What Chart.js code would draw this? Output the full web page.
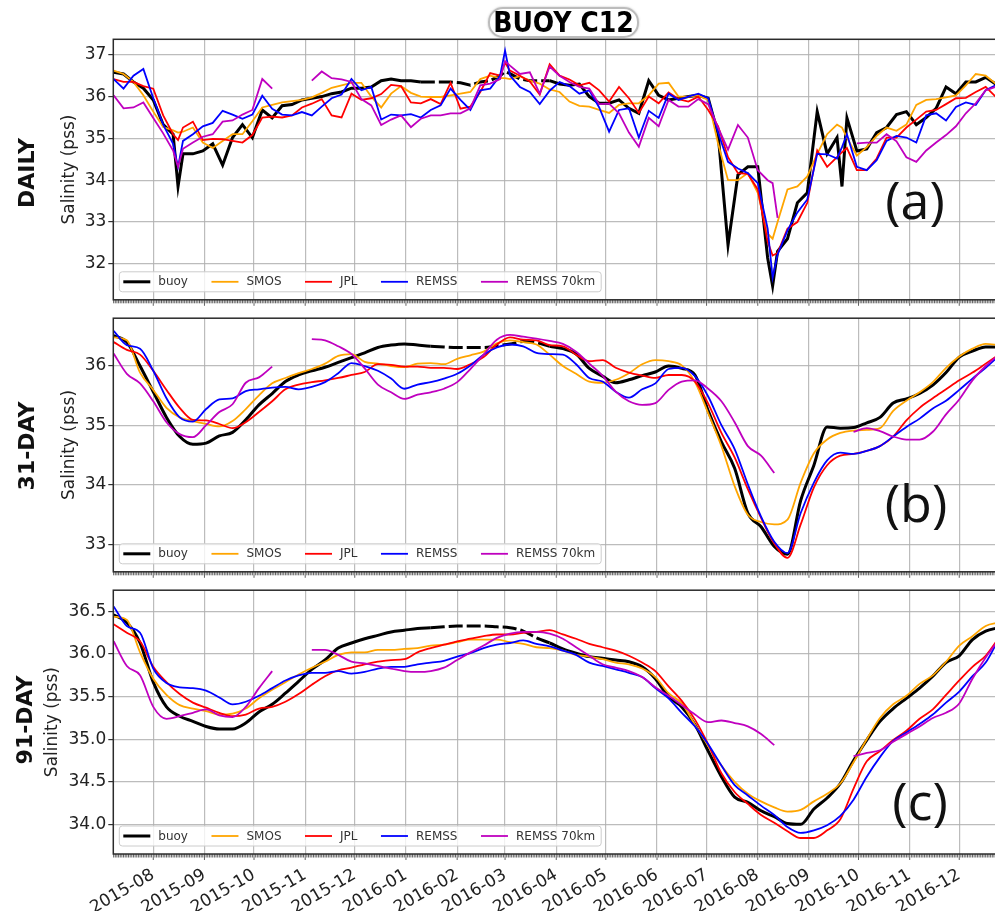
<!DOCTYPE html>
<html>
<head>
<meta charset="utf-8">
<title>BUOY C12</title>
<script src="https://cdn.jsdelivr.net/npm/chart.js@4.4.1/dist/chart.umd.min.js"></script>
<style>
  html, body { margin: 0; padding: 0; background: #ffffff; }
  body { position: relative; width: 995px; height: 911px; overflow: hidden; font-family: "DejaVu Sans", sans-serif; }
  canvas { position: absolute; left: 0; }
  .rowlabel { position: absolute; font-weight: bold; font-size: 22px; color: #111; white-space: nowrap; line-height: 1;
              transform: translate(-50%, -50%) rotate(-90deg); }
  .tag { position: absolute; font-family: "Open Sans", sans-serif; font-size: 52px; color: #111; line-height: 1;
         white-space: nowrap; transform: translate(-50%, -50%); }
  #title { position: absolute; left: 488px; top: 7px; width: 147px; height: 27px;
           border: 2px solid rgba(165,165,165,0.75); border-radius: 15px; box-shadow: 0 0 2px rgba(120,120,120,0.5);
           text-align: center; font-family: "Liberation Sans Narrow", "DejaVu Sans Condensed", sans-serif;
           font-weight: bold; font-size: 28px; line-height: 27px; color: #000; }
</style>
</head>
<body>
<canvas id="daily" width="1010" height="312" style="top:0px"></canvas>
<canvas id="d31" width="1010" height="278" style="top:306px"></canvas>
<canvas id="d91" width="1010" height="333" style="top:578px"></canvas>
<div id="title">BUOY C12</div>
<div class="rowlabel" style="left:27px; top:173px">DAILY</div>
<div class="rowlabel" style="left:27px; top:446px">31-DAY</div>
<div class="rowlabel" style="left:25px; top:720px">91-DAY</div>
<div class="tag" style="left:915px; top:199px">(a)</div>
<div class="tag" style="left:916px; top:502px">(b)</div>
<div class="tag" style="left:920px; top:800px">(c)</div>
<script>
// ---- series names, colours, tick labels ----
const SERIES_NAMES = ['buoy', 'SMOS', 'JPL', 'REMSS', 'REMSS 70km'];
const SERIES_COLORS = ['#000000', '#ffa500', '#ff0000', '#0000ff', '#bf00bf'];
const MONTH_LABELS = ['2015-08','2015-09','2015-10','2015-11','2015-12','2016-01','2016-02','2016-03',
                      '2016-04','2016-05','2016-06','2016-07','2016-08','2016-09','2016-10','2016-11','2016-12'];
const DAILY_TICKS = [32, 33, 34, 35, 36, 37];
const D31_TICKS = [33, 34, 35, 36];
const D91_TICKS = [34.0, 34.5, 35.0, 35.5, 36.0, 36.5];
// period with intermittent buoy records (drawn dashed)
const BUOY_SPARSE = ['2016-01-09', '2016-03-26'];

// ---- daily salinity ----
const DAILY_DATES = [
 '2015-07-08','2015-07-14','2015-07-20','2015-07-26',
 '2015-08-01','2015-08-07','2015-08-13','2015-08-16','2015-08-19','2015-08-25','2015-08-31',
 '2015-09-06','2015-09-12','2015-09-18','2015-09-24','2015-09-30',
 '2015-10-06','2015-10-12','2015-10-18','2015-10-24','2015-10-30',
 '2015-11-05','2015-11-11','2015-11-17','2015-11-23','2015-11-29',
 '2015-12-05','2015-12-11','2015-12-17','2015-12-23','2015-12-29',
 '2016-01-04','2016-01-10','2016-01-16','2016-01-22','2016-01-28',
 '2016-02-03','2016-02-09','2016-02-15','2016-02-21','2016-02-27',
 '2016-03-01','2016-03-04','2016-03-10','2016-03-16','2016-03-22','2016-03-28',
 '2016-04-03','2016-04-09','2016-04-15','2016-04-21','2016-04-27',
 '2016-05-03','2016-05-09','2016-05-15','2016-05-21','2016-05-27',
 '2016-06-02','2016-06-08','2016-06-14','2016-06-20','2016-06-26',
 '2016-07-02','2016-07-08','2016-07-14','2016-07-20','2016-07-26',
 '2016-08-01','2016-08-07','2016-08-10','2016-08-13','2016-08-19','2016-08-25','2016-08-31',
 '2016-09-06','2016-09-12','2016-09-18','2016-09-21','2016-09-24','2016-09-30',
 '2016-10-06','2016-10-12','2016-10-18','2016-10-24','2016-10-30',
 '2016-11-05','2016-11-11','2016-11-17','2016-11-23','2016-11-29',
 '2016-12-05','2016-12-11','2016-12-17','2016-12-23'];
const DAILY_BUOY = [
 36.58,36.54,36.35,36.2,
 35.92,35.33,35.1,33.85,34.63,34.63,34.7,
 34.87,34.36,35.02,35.33,35.02,
 35.68,35.49,35.78,35.81,35.92,
 35.96,36.0,36.07,36.11,36.2,
 36.2,36.23,36.38,36.42,36.38,
 36.38,36.35,36.35,36.35,36.35,
 36.33,36.27,36.35,36.38,36.5,
 36.6,36.55,36.42,36.38,36.38,36.38,
 36.3,36.27,36.3,36.0,35.84,
 35.84,35.92,35.72,35.6,36.38,
 36.03,35.92,35.96,36.0,36.03,
 35.96,35.1,32.45,34.13,34.32,
 34.32,32.14,31.47,32.3,32.6,33.46,33.7,
 35.64,34.63,35.02,33.85,35.49,34.7,
 34.75,35.14,35.26,35.57,35.64,
 35.33,35.5,35.72,36.23,36.07,
 36.35,36.35,36.46,36.3];
const DAILY_SMOS = [
 36.62,36.54,36.35,36.03,
 35.64,35.27,35.19,35.14,35.16,35.26,34.9,
 34.77,34.94,35.1,35.1,35.41,
 35.74,35.8,35.86,35.89,35.92,
 35.98,36.09,36.21,36.27,36.33,
 36.33,36.0,35.74,36.07,36.25,
 36.09,36.0,35.99,35.99,36.03,
 36.07,36.11,36.42,36.5,36.44,
 36.44,36.42,36.49,36.38,36.31,36.17,
 36.11,35.88,35.78,35.76,35.68,
 35.61,35.8,35.84,35.84,36.03,
 36.31,36.33,36.0,36.0,36.03,
 35.92,34.87,34.0,34.0,34.17,
 33.7,32.72,32.6,33.0,33.78,33.85,34.09,
 34.63,35.1,35.33,35.26,35.02,34.59,
 34.79,35.06,35.26,35.18,35.33,
 35.8,35.92,35.94,35.98,36.03,
 36.27,36.54,36.5,36.31];
const DAILY_JPL = [
 36.42,36.35,36.35,36.25,
 36.19,35.55,35.1,34.96,35.26,35.4,34.96,
 34.99,34.98,34.94,34.9,35.08,
 35.5,35.52,35.5,35.55,35.74,
 35.83,35.94,35.55,35.5,36.07,
 35.92,35.96,36.06,36.28,36.25,
 35.86,35.84,35.94,35.82,36.33,
 35.71,35.76,36.11,36.56,36.5,
 36.81,36.62,36.5,36.36,36.05,36.77,
 36.5,36.41,36.27,36.33,36.15,
 35.88,36.23,35.96,35.61,36.0,
 35.84,36.1,35.94,35.88,36.0,
 35.68,35.29,34.55,34.17,34.15,
 33.78,32.53,32.2,32.26,32.84,33.0,33.46,
 34.71,34.32,34.55,34.67,34.77,34.24,
 34.24,34.52,35.02,35.02,35.26,
 35.45,35.64,35.68,35.82,35.96,
 35.97,36.11,36.23,36.0];
const DAILY_REMSS = [
 36.42,36.19,36.5,36.66,
 35.96,35.33,34.87,34.32,34.94,35.1,35.29,
 35.37,35.66,35.57,35.47,35.57,
 36.02,35.71,35.57,35.55,35.63,
 35.55,35.76,35.96,36.05,36.42,
 36.15,36.23,35.45,35.57,35.55,
 35.58,35.5,35.68,35.79,36.19,
 35.92,35.68,36.15,36.19,36.5,
 37.1,36.5,36.23,36.11,35.82,36.14,
 36.35,36.25,36.07,36.15,35.74,
 35.16,35.68,35.72,35.02,35.66,
 35.49,36.07,35.92,36.0,36.07,
 35.96,35.14,34.44,34.28,34.17,
 33.93,32.84,31.67,32.22,32.8,33.23,33.54,
 34.63,34.62,34.52,34.79,35.1,34.32,
 34.24,34.48,34.94,35.06,35.02,
 34.9,35.55,35.6,35.43,35.75,
 35.86,35.8,36.15,36.27];
const DAILY_REMSS70 = [
 36.03,35.72,35.74,35.86,
 35.49,35.12,34.71,34.32,34.75,34.9,35.04,
 35.1,35.4,35.43,35.57,35.68,
 36.42,36.19,null,null,null,
 36.38,36.6,36.44,36.41,36.35,
 35.94,35.79,35.32,35.45,35.55,
 35.27,35.47,35.55,35.55,35.6,
 35.6,35.72,36.27,36.31,36.42,
 36.85,36.74,36.54,36.58,36.07,36.72,
 36.5,36.35,36.23,36.19,35.82,
 35.83,35.6,35.14,34.8,35.49,
 35.29,35.92,35.76,35.76,35.94,
 35.82,35.26,34.73,35.32,35.02,
 34.24,34.0,33.93,33.1,null,null,null,
 null,null,null,null,null,34.88,
 34.9,34.9,35.1,34.93,34.55,
 34.44,34.71,34.9,35.08,35.29,
 35.6,35.84,36.15,36.23];

// ---- 31-day and 91-day running means ----
const SMOOTH_DATES = [
 '2015-07-08','2015-07-16','2015-07-24','2015-08-01','2015-08-09','2015-08-17','2015-08-25',
 '2015-09-02','2015-09-10','2015-09-18','2015-09-26','2015-10-04','2015-10-12','2015-10-20','2015-10-28',
 '2015-11-05','2015-11-13','2015-11-21','2015-11-29','2015-12-07','2015-12-15','2015-12-23','2015-12-31',
 '2016-01-08','2016-01-16','2016-01-24','2016-02-01','2016-02-09','2016-02-17','2016-02-25',
 '2016-03-04','2016-03-12','2016-03-20','2016-03-28','2016-04-05','2016-04-13','2016-04-21','2016-04-29',
 '2016-05-07','2016-05-15','2016-05-23','2016-05-31','2016-06-08','2016-06-16','2016-06-24',
 '2016-07-02','2016-07-10','2016-07-18','2016-07-26','2016-08-03','2016-08-11','2016-08-19','2016-08-27',
 '2016-09-04','2016-09-12','2016-09-20','2016-09-28','2016-10-06','2016-10-14','2016-10-22','2016-10-30',
 '2016-11-07','2016-11-15','2016-11-23','2016-12-01','2016-12-09','2016-12-17','2016-12-25'];

const D31_BUOY = [
 36.5,36.39,35.99,35.56,35.13,34.81,34.68,34.7,34.82,34.88,
 35.09,35.34,35.53,35.73,35.84,35.91,35.97,36.05,36.13,36.21,
 36.3,36.34,36.36,36.34,36.32,36.31,36.3,36.3,36.3,36.33,
 36.36,36.4,36.38,36.32,36.28,36.19,35.95,35.82,35.71,35.76,
 35.83,35.89,35.99,35.95,35.84,35.24,34.72,34.28,33.53,33.3,
 32.97,32.84,33.74,34.33,34.97,34.95,34.96,35.04,35.13,35.37,
 35.44,35.53,35.67,35.88,36.14,36.24,36.31,36.31];
const D31_SMOS = [
 36.47,36.42,35.88,35.59,35.29,35.13,35.07,35.02,34.98,35.07,
 35.27,35.5,35.7,35.79,35.87,35.94,36.03,36.16,36.19,36.06,
 36.03,35.99,35.97,36.03,36.04,36.02,36.11,36.17,36.23,36.37,
 36.42,36.39,36.35,36.18,35.99,35.86,35.73,35.71,35.76,35.87,
 36.02,36.09,36.07,36.0,35.72,35.2,34.65,33.98,33.5,33.38,
 33.34,33.42,34.04,34.53,34.76,34.87,34.91,34.92,34.95,35.24,
 35.41,35.55,35.72,35.96,36.15,36.28,36.36,36.34];
const D31_JPL = [
 36.39,36.26,36.18,35.91,35.59,35.29,35.09,35.08,35.02,34.95,
 35.05,35.22,35.4,35.6,35.68,35.72,35.75,35.79,35.84,35.89,
 36.02,36.01,35.98,35.98,35.96,35.96,35.94,36.02,36.14,36.35,
 36.47,36.43,36.42,36.34,36.32,36.18,36.07,36.09,35.96,35.88,
 35.83,35.79,35.84,35.84,35.73,35.36,34.87,34.46,33.93,33.45,
 33.02,32.78,33.34,33.96,34.33,34.49,34.52,34.57,34.65,34.81,
 35.08,35.29,35.45,35.6,35.75,35.88,36.03,36.18];
const D31_REMSS = [
 36.58,36.34,36.28,35.91,35.45,35.13,35.06,35.27,35.43,35.45,
 35.57,35.6,35.63,35.64,35.6,35.64,35.72,35.87,36.04,35.99,
 35.91,35.78,35.61,35.68,35.72,35.78,35.86,36.0,36.18,36.3,
 36.35,36.32,36.21,36.19,36.18,36.02,35.79,35.73,35.56,35.46,
 35.6,35.7,35.94,35.96,35.82,35.48,35.0,34.6,34.01,33.47,
 33.05,32.86,33.53,34.04,34.41,34.54,34.52,34.57,34.65,34.81,
 34.97,35.11,35.28,35.41,35.59,35.78,35.96,36.16];
const D31_REMSS70 = [
 36.2,35.86,35.7,35.4,35.05,34.85,34.8,35.0,35.22,35.35,
 35.71,35.8,35.98,null,null,36.44,36.42,36.32,36.19,35.95,
 35.68,35.55,35.44,35.51,35.55,35.61,35.72,35.94,36.18,36.43,
 36.51,36.48,36.45,36.41,36.36,36.23,36.03,35.83,35.56,35.4,
 35.34,35.37,35.59,35.73,35.75,35.61,35.4,35.05,34.65,34.49,
 34.2,null,null,null,null,null,34.89,34.95,34.9,34.81,
 34.76,34.76,34.89,35.18,35.43,35.75,35.99,36.18];

const D91_BUOY = [
 36.46,36.37,36.13,35.67,35.38,35.27,35.21,35.15,35.12,35.12,
 35.19,35.32,35.41,35.54,35.68,35.82,35.93,36.07,36.13,36.18,
 36.22,36.26,36.28,36.3,36.31,36.32,36.33,36.33,36.33,36.32,
 36.31,36.27,36.19,36.13,36.06,36.01,35.97,35.95,35.93,35.91,
 35.85,35.71,35.5,35.38,35.17,34.86,34.56,34.32,34.26,34.16,
 34.09,34.01,34.0,34.18,34.31,34.48,34.75,34.99,35.21,35.36,
 35.48,35.6,35.74,35.9,35.98,36.17,36.27,36.31];
const D91_SMOS = [
 36.44,36.4,36.02,35.71,35.52,35.4,35.36,35.33,35.29,35.3,
 35.36,35.48,35.58,35.67,35.76,35.84,35.91,35.99,36.02,36.02,
 36.05,36.05,36.06,36.07,36.1,36.11,36.14,36.17,36.17,36.17,
 36.14,36.12,36.08,36.07,36.04,35.99,35.97,35.94,35.9,35.88,
 35.83,35.73,35.54,35.42,35.17,34.92,34.69,34.5,34.36,34.27,
 34.2,34.15,34.17,34.27,34.36,34.48,34.73,35.0,35.25,35.41,
 35.51,35.65,35.75,35.91,36.1,36.21,36.33,36.37];
const D91_JPL = [
 36.35,36.25,36.15,35.85,35.67,35.53,35.43,35.37,35.31,35.27,
 35.29,35.36,35.38,35.44,35.53,35.64,35.74,35.81,35.84,35.88,
 35.91,35.93,35.94,36.02,36.07,36.11,36.15,36.18,36.21,36.23,
 36.23,36.25,36.26,36.28,36.23,36.18,36.12,36.08,36.04,35.98,
 35.9,35.8,35.62,35.45,35.23,34.94,34.6,34.38,34.24,34.11,
 34.02,33.92,33.84,33.84,33.93,34.06,34.42,34.74,34.86,34.99,
 35.1,35.24,35.35,35.52,35.69,35.85,35.98,36.19];
const D91_REMSS = [
 36.56,36.33,36.25,35.83,35.66,35.61,35.6,35.57,35.49,35.41,
 35.44,35.51,35.6,35.69,35.75,35.78,35.78,35.8,35.77,35.79,
 35.83,35.85,35.85,35.88,35.9,35.92,35.97,36.01,36.07,36.11,
 36.13,36.16,36.12,36.09,36.04,35.99,35.9,35.86,35.82,35.78,
 35.73,35.6,35.48,35.31,35.15,34.94,34.69,34.46,34.34,34.22,
 34.11,33.97,33.9,33.93,33.99,34.1,34.29,34.56,34.79,34.98,
 35.08,35.18,35.29,35.43,35.56,35.74,35.9,36.18];
const D91_REMSS70 = [
 36.15,35.86,35.75,35.38,35.24,35.27,35.31,35.35,35.28,35.26,
 35.38,35.6,35.8,null,null,36.05,36.05,35.99,35.91,35.89,
 35.86,35.83,35.8,35.79,35.8,35.84,35.93,36.02,36.1,36.19,
 36.24,36.26,36.26,36.24,36.18,36.08,35.98,35.88,35.84,35.8,
 35.73,35.61,35.51,35.4,35.29,35.2,35.22,35.19,35.15,35.06,
 34.93,null,null,null,null,null,34.8,34.84,34.87,34.97,
 35.06,35.15,35.25,35.31,35.42,35.71,35.96,36.17];

// ---- helpers ----
const EPOCH = Date.UTC(2015, 7, 1);
function dayOf(iso) {
  const [y, m, d] = iso.split('-').map(Number);
  return (Date.UTC(y, m - 1, d) - EPOCH) / 86400000;
}
const X_MIN_DAY = -24.2;   // shared time window of all three panels (days since 2015-08-01)
const X_MAX_DAY = 515.7;
const GRID = 'rgba(176,176,176,0.85)';
const TEXT = '#222222';
const sparseFrom = dayOf(BUOY_SPARSE[0]), sparseTo = dayOf(BUOY_SPARSE[1]);
const monthDays = MONTH_LABELS.map(m => dayOf(m + '-01'));

// spines plus daily minor / monthly major tick marks under the bottom spine
const framePlugin = {
  id: 'frame',
  afterDatasetsDraw(chart) {
    const { ctx, chartArea: a } = chart;
    const x = chart.scales.x;
    ctx.save();
    ctx.strokeStyle = '#3a3a3a';
    ctx.lineWidth = 0.8;
    ctx.beginPath();
    for (let d = Math.ceil(x.min); d <= x.max; d++) {
      const px = x.getPixelForValue(d);
      if (px > a.right) break;
      const len = monthDays.includes(d) ? 6 : 3.5;
      ctx.moveTo(px, a.bottom);
      ctx.lineTo(px, a.bottom + len);
    }
    ctx.stroke();
    ctx.lineWidth = 1.5;
    ctx.strokeStyle = '#2b2b2b';
    ctx.strokeRect(a.left, a.top, a.right - a.left, a.bottom - a.top);
    ctx.restore();
  }
};

// single-row legend placed inside the lower-left corner of each panel
const insideLegend = {
  id: 'insideLegend',
  afterDatasetsDraw(chart) {
    const { ctx, chartArea: a } = chart;
    const H = 20, handle = 27, gap = 8, colGap = 23.5;
    const left = a.left + 6, bottom = a.bottom - 8, top = bottom - H, mid = top + H / 2;
    ctx.save();
    ctx.font = '12px "DejaVu Sans"';
    let cx = left + 4;
    const items = chart.data.datasets.map(ds => {
      const w = ctx.measureText(ds.label).width;
      const it = { ds, x: cx, w };
      cx += handle + gap + w + colGap;
      return it;
    });
    const right = cx - colGap + 6;
    ctx.beginPath();
    ctx.roundRect(left, top, right - left, H, 3);
    ctx.fillStyle = 'rgba(255,255,255,0.8)';
    ctx.fill();
    ctx.strokeStyle = '#cccccc';
    ctx.lineWidth = 1;
    ctx.stroke();
    items.forEach(it => {
      ctx.beginPath();
      ctx.strokeStyle = it.ds.borderColor;
      ctx.lineWidth = it.ds.borderWidth;
      ctx.moveTo(it.x, mid);
      ctx.lineTo(it.x + handle, mid);
      ctx.stroke();
      ctx.fillStyle = '#333333';
      ctx.textBaseline = 'middle';
      ctx.textAlign = 'left';
      ctx.fillText(it.ds.label, it.x + handle + gap, mid + 0.5);
    });
    ctx.restore();
  }
};

function makePanel(id, dates, series, yRange, yTicks, decimals, opt) {
  const xs = dates.map(dayOf);
  const datasets = SERIES_NAMES.map((name, s) => ({
    label: name,
    data: xs.map((x, i) => ({ x, y: series[s][i] })),
    borderColor: SERIES_COLORS[s],
    borderWidth: s === 0 ? 3 : 1.8,
    pointRadius: 0,
    fill: false,
    order: SERIES_NAMES.length - s,
    tension: 0,
    cubicInterpolationMode: opt.smooth ? 'monotone' : 'default',
    spanGaps: false,
    segment: s === 0 ? {
      borderDash: c => (c.p0.parsed.x >= sparseFrom && c.p0.parsed.x < sparseTo) ? [14, 4] : undefined
    } : undefined
  }));
  const font = { family: 'DejaVu Sans', size: 17 };
  return new Chart(document.getElementById(id), {
    type: 'line',
    data: { datasets },
    options: {
      responsive: false,
      animation: false,
      devicePixelRatio: 1,
      events: [],
      layout: { padding: { left: opt.padLeft, right: 5, top: opt.padTop, bottom: 0 } },
      plugins: { legend: { display: false }, tooltip: { enabled: false } },
      scales: {
        x: {
          type: 'linear', min: X_MIN_DAY, max: X_MAX_DAY,
          grid: { color: GRID, lineWidth: 1.2, drawTicks: false },
          border: { display: false },
          ticks: { display: opt.labels, autoSkip: false, minRotation: 30, maxRotation: 30, padding: 11,
                   font, color: TEXT, callback: (v, i) => MONTH_LABELS[i] },
          afterBuildTicks: sc => { sc.ticks = monthDays.map(v => ({ value: v })); },
          afterFit: sc => { sc.height = opt.xHeight; }
        },
        y: {
          min: yRange[0], max: yRange[1],
          grid: { color: GRID, lineWidth: 1.2, tickColor: '#333333', tickLength: 5, tickWidth: 1.2 },
          border: { display: false },
          ticks: { padding: 2, font, color: TEXT, callback: v => Number(v).toFixed(decimals) },
          title: { display: true, text: 'Salinity (pss)', font, color: TEXT, padding: 0 },
          afterBuildTicks: sc => { sc.ticks = yTicks.map(v => ({ value: v })); },
          afterFit: sc => { sc.width = opt.yWidth; }
        }
      }
    },
    plugins: [framePlugin, insideLegend]
  });
}

makePanel('daily', DAILY_DATES,
  [DAILY_BUOY, DAILY_SMOS, DAILY_JPL, DAILY_REMSS, DAILY_REMSS70],
  [31.14, 37.37], DAILY_TICKS, 0,
  { smooth: false, labels: false, padLeft: 59.8, yWidth: 53.5, padTop: 39.3, xHeight: 6 });

makePanel('d31', SMOOTH_DATES,
  [D31_BUOY, D31_SMOS, D31_JPL, D31_REMSS, D31_REMSS70],
  [32.547, 36.79], D31_TICKS, 0,
  { smooth: true, labels: false, padLeft: 59.8, yWidth: 53.5, padTop: 7.3, xHeight: 6 });

makePanel('d91', SMOOTH_DATES,
  [D91_BUOY, D91_SMOS, D91_JPL, D91_REMSS, D91_REMSS70],
  [33.652, 36.75], D91_TICKS, 1,
  { smooth: true, labels: true, padLeft: 42.3, yWidth: 71, padTop: 8.7, xHeight: 57 });
</script>
</body>
</html>
